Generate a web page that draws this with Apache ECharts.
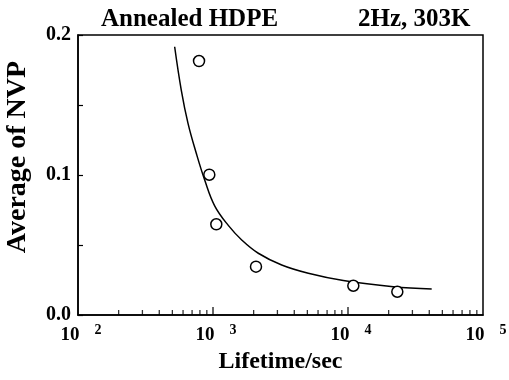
<!DOCTYPE html>
<html>
<head>
<meta charset="utf-8">
<script src="https://cdn.jsdelivr.net/npm/echarts@6/dist/echarts.min.js"></script>
<style>html,body{margin:0;padding:0;background:#fff}#c{width:509px;height:380px}</style>
</head>
<body>
<div id="c"></div>
<script>
// Measured points (open circles)
const lifetimes = [788, 939, 1058, 2082, 10950, 23190];
const nvpAvg = [0.1814, 0.1002, 0.0648, 0.0345, 0.0209, 0.0166];
// Fitted curve
const curveT = [520, 582, 653, 752, 868, 1029, 1298, 1632, 2165, 3228, 5080, 9230, 21650, 41690];
const curveY = [0.1916, 0.1607, 0.1369, 0.1155, 0.0964, 0.0780, 0.0640, 0.0536, 0.0441, 0.0357, 0.0298, 0.0246, 0.0202, 0.0186];
// Tick values
const xMajorTicks = [1000, 10000];
const xMinorTicks = [200,300,400,500,600,700,800,900,2000,3000,4000,5000,6000,7000,8000,9000,20000,30000,40000,50000,60000,70000,80000,90000];
const yTickLabels = ['0.0', '0.1', '0.2'];

const font = '"Liberation Serif", "Times New Roman", serif';
const chart = echarts.init(document.getElementById('c'));
chart.setOption({
  animation: false,
  backgroundColor: '#fff',
  title: [
    {text: 'Annealed HDPE', left: 96, top: 2, textStyle: {fontFamily: font, fontWeight: 'bold', fontSize: 25, color: '#000'}},
    {text: '2Hz, 303K', left: 353, top: 2, textStyle: {fontFamily: font, fontWeight: 'bold', fontSize: 25, color: '#000'}}
  ],
  grid: {left: 78, right: 26, top: 35, bottom: 65, containLabel: false, outerBoundsMode: 'none',
         show: true, borderColor: '#000', borderWidth: 1.5, backgroundColor: 'transparent'},
  xAxis: {
    type: 'log', logBase: 10, min: 100, max: 100000,
    name: 'Lifetime/sec', nameLocation: 'middle', nameGap: 35,
    nameTextStyle: {fontFamily: font, fontWeight: 'bold', fontSize: 24, color: '#000'},
    axisLine: {lineStyle: {color: '#000', width: 1.5}},
    axisTick: {show: false},
    splitLine: {show: false},
    axisLabel: {
      margin: 8,
      padding: [0, 0, 0, 6],
      formatter: function (v) { return '{b|10}{e|' + Math.round(Math.log10(v)) + '}'; },
      rich: {
        b: {fontFamily: font, fontWeight: 'bold', fontSize: 19, color: '#000'},
        e: {fontFamily: font, fontWeight: 'bold', fontSize: 14, color: '#000', padding: [0, 0, 11, 15]}
      }
    }
  },
  yAxis: {
    type: 'value', min: 0, max: 0.2, interval: 0.05,
    name: 'Average of NVP', nameLocation: 'middle', nameGap: 46, nameRotate: 90,
    nameTextStyle: {fontFamily: font, fontWeight: 'bold', fontSize: 28, color: '#000', padding: [0, 0, 0, 36]},
    axisLine: {show: true, lineStyle: {color: '#000', width: 1.5}},
    axisTick: {show: true, inside: true, length: 5, lineStyle: {color: '#000', width: 1.2}},
    splitLine: {show: false},
    axisLabel: {
      fontFamily: font, fontWeight: 'bold', fontSize: 20, color: '#000', margin: 7,
      formatter: function (v) { const s = v.toFixed(1); return (Math.abs(v * 10 - Math.round(v * 10)) < 1e-6 && yTickLabels.indexOf(s) >= 0) ? s : ''; }
    }
  },
  series: [
    {
      type: 'line', data: curveT.map((t, i) => [t, curveY[i]]), showSymbol: false, symbol: 'none', smooth: 0.4,
      lineStyle: {color: '#000', width: 1.5}, silent: true, z: 2
    },
    {
      type: 'scatter', data: lifetimes.map((t, i) => [t, nvpAvg[i]]), symbol: 'circle', symbolSize: 11,
      itemStyle: {color: '#fff', borderColor: '#000', borderWidth: 1.5, opacity: 1}, z: 3, silent: true
    },
    {
      type: 'scatter', data: xMinorTicks.map(t => [t, 0]), symbol: 'rect', symbolSize: [1.3, 5], symbolOffset: [0, -2.5],
      itemStyle: {color: '#000'}, silent: true, clip: false, z: 4
    },
    {
      type: 'scatter', data: xMajorTicks.map(t => [t, 0]), symbol: 'rect', symbolSize: [1.5, 8], symbolOffset: [0, -4],
      itemStyle: {color: '#000'}, silent: true, clip: false, z: 4
    }
  ]
});
</script>
</body>
</html>
